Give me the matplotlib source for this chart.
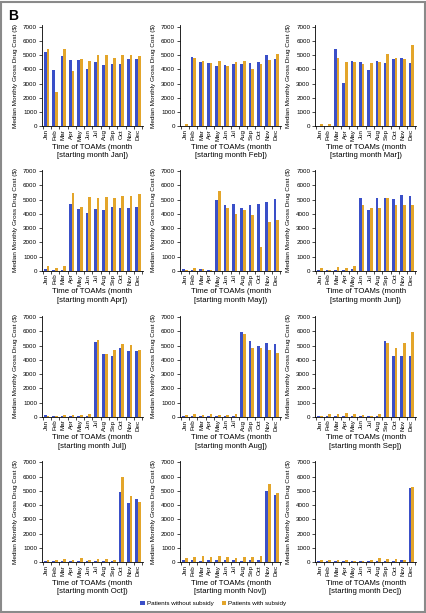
import matplotlib.pyplot as plt
from matplotlib.patches import Rectangle
import numpy as np

plt.rcParams['font.family'] = ['Liberation Sans', 'DejaVu Sans']

months = ['Jan', 'Feb', 'Mar', 'Apr', 'May', 'Jun',
          'Jul', 'Aug', 'Sep', 'Oct', 'Nov', 'Dec']

# median monthly gross drug cost ($), one list per starting month
jan_without = [5200, 3950, 4900, 4650, 4650, 4050, 4500, 4300, 4350, 4400, 4700, 4750]
jan_with = [5400, 2400, 5450, 3850, 4750, 4550, 5000, 5000, 4800, 5000, 5000, 4950]
feb_without = [50, 4850, 4500, 4450, 4250, 4300, 4350, 4400, 4450, 4500, 5000, 4700]
feb_with = [150, 4800, 4600, 4450, 4550, 4250, 4500, 4550, 4050, 4350, 4650, 5100]
mar_without = [50, 50, 5450, 3050, 4600, 4500, 3950, 4600, 4450, 4700, 4800, 4450]
mar_with = [150, 150, 4800, 4500, 4500, 4400, 4450, 4500, 5050, 4800, 4750, 5700]
apr_without = [150, 100, 100, 4700, 4350, 4100, 4350, 4250, 4500, 4400, 4450, 4500]
apr_with = [350, 200, 380, 5450, 4500, 5200, 5150, 5200, 5100, 5250, 5250, 5400]
may_without = [120, 60, 130, 80, 4950, 4650, 4700, 4450, 4600, 4700, 4850, 5050]
may_with = [60, 200, 130, 80, 5600, 4400, 4000, 4300, 3900, 1650, 3450, 3600]
jun_without = [60, 60, 60, 60, 120, 5150, 4300, 5100, 5100, 5050, 5350, 5250]
jun_with = [200, 60, 280, 200, 380, 4650, 4450, 4400, 5100, 4650, 4650, 4600]
jul_without = [100, 60, 60, 60, 80, 80, 5250, 4400, 4300, 4800, 4600, 4600]
jul_with = [80, 60, 100, 100, 100, 170, 5400, 4400, 4700, 5100, 5050, 4700]
aug_without = [60, 60, 60, 60, 60, 60, 80, 5950, 5300, 5000, 5150, 5100]
aug_with = [150, 200, 130, 220, 120, 120, 170, 5850, 4800, 4800, 4700, 4500]
sep_without = [80, 50, 80, 80, 80, 50, 80, 80, 5350, 4250, 4300, 4250]
sep_with = [50, 180, 170, 300, 170, 130, 80, 220, 5200, 4850, 5150, 5950]
oct_without = [50, 60, 60, 60, 80, 60, 60, 60, 60, 4900, 4150, 4450]
oct_with = [150, 180, 200, 180, 300, 150, 220, 200, 130, 5950, 4650, 4200]
nov_without = [130, 150, 100, 150, 150, 150, 130, 60, 150, 130, 5000, 4700]
nov_with = [280, 330, 420, 380, 430, 350, 300, 350, 330, 400, 5500, 4850]
dec_without = [50, 50, 60, 60, 60, 60, 80, 80, 80, 80, 150, 5200]
dec_with = [130, 130, 150, 130, 80, 100, 130, 280, 200, 200, 150, 5300]

panels = [
    ('Jan', jan_without, jan_with), ('Feb', feb_without, feb_with), ('Mar', mar_without, mar_with),
    ('Apr', apr_without, apr_with), ('May', may_without, may_with), ('Jun', jun_without, jun_with),
    ('Jul', jul_without, jul_with), ('Aug', aug_without, aug_with), ('Sep', sep_without, sep_with),
    ('Oct', oct_without, oct_with), ('Nov', nov_without, nov_with), ('Dec', dec_without, dec_with),
]

blue = '#3a4fc8'
gold = '#e3a52a'

fig = plt.figure(figsize=(4.27, 6.13), dpi=100)

lefts = [0.098, 0.4215, 0.738]
bottoms = [0.794, 0.558, 0.320, 0.083]
w = 0.237
h = 0.165

x = np.arange(len(months))
bw = 0.32

for i, (start, no_sub, sub) in enumerate(panels):
    ax = fig.add_axes([lefts[i % 3], bottoms[i // 3], w, h])
    b1 = ax.bar(x - bw / 2, no_sub, bw, color=blue, label='Patients without subsidy')
    b2 = ax.bar(x + bw / 2, sub, bw, color=gold, label='Patients with subsidy')
    ax.set_xlim(-0.6, 11.6)
    ax.set_ylim(0, 7100)
    ax.set_yticks(range(0, 7001, 1000))
    ax.set_xticks(x)
    ax.set_xticklabels(months, rotation=90, fontsize=4.5)
    ax.set_xticks(np.arange(-0.5, 12, 1), minor=True)
    ax.tick_params(axis='x', which='major', length=0, pad=2)
    ax.tick_params(axis='x', which='minor', length=2, width=0.5)
    ax.tick_params(axis='y', labelsize=4.5, length=2, width=0.5, pad=1.5)
    for s in ['top', 'right']:
        ax.spines[s].set_visible(False)
    for s in ['left', 'bottom']:
        ax.spines[s].set_linewidth(0.6)
    ax.set_ylabel('Median Monthly Gross Drug Cost ($)', fontsize=4.6, labelpad=3.5)
    ax.set_xlabel('Time of TOAMs (month\n[starting month {}])'.format(start),
                  fontsize=5.6, labelpad=2, linespacing=1.3)

fig.legend([b1, b2], ['Patients without subsidy', 'Patients with subsidy'],
           loc='center', bbox_to_anchor=(0.5, 0.016), ncol=2, frameon=False,
           fontsize=4.5, handlelength=0.7, handleheight=0.7, columnspacing=1.2,
           handletextpad=0.4)

fig.text(0.018, 0.985, 'B', fontsize=10, fontweight='bold', va='top', ha='left')
fig.patches.append(Rectangle((0.003, 0.002), 0.992, 0.995, transform=fig.transFigure,
                             fill=False, edgecolor='#8a8a8a', linewidth=1.5))

fig.savefig('out.png', dpi=100)
